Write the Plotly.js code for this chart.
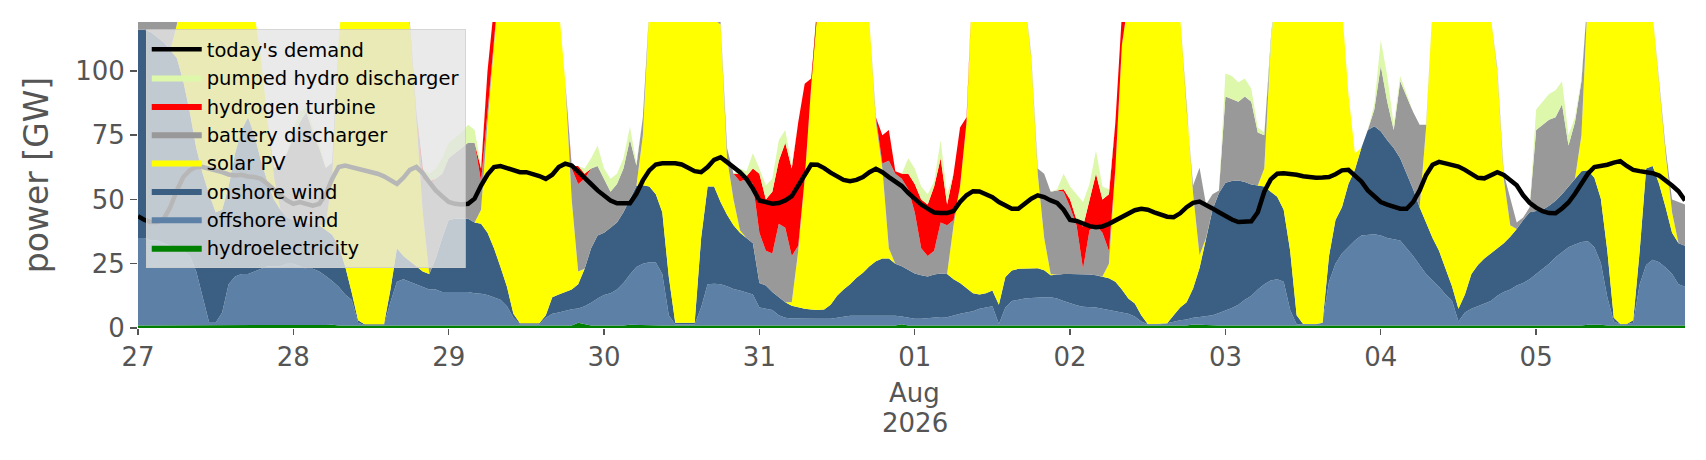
<!DOCTYPE html>
<html><head><meta charset="utf-8">
<script src="https://cdn.plot.ly/plotly-3.0.1.min.js"></script>
<style>html,body{margin:0;padding:0;background:#fff}#chart{width:1706px;height:460px}</style>
</head><body><div id="chart"></div>
<script>
// hourly data from 2026-07-27 00:00, 240 hours (GW)
const startUTC = Date.UTC(2026, 6, 27, 0, 0);
const hoursCount = 240;

const hydro = [
1,1,1,1,1,1,1,1,1,1,1,1,1,1,1,1,1,1,1,1,1,1,1,1,
1,1,1,1,1,1.2,1.3,1,1,1,1,1,1,1,1,1,1,1,1,1,1,1,1,1,
1,1,1,1,1,1,1,1,1,1,1,1,1,1,1,1,1,1,1,1,2,1.5,1,1,
1,1,1,1,1.3,1.2,1,1,1,1,1,1,1,1,1,1,1,1,1,1,1,1,1,1,
1,1,1,1,1,1,1,1,1,1,1,1,1,1,1,1,1,1,1,1,1,1,1.5,1,
1,1,1,1,1,1,1,1,1,1,1,1,1,1,1,1,1,1,1,1,1,1,1,1,
1,1,1,1,1,1,1,1,1,1,1,1,1,1,1,1,1,1,1,1.4,1.3,1,1,1,
1,1,1,1,1,1,1,1,1,1,1,1,1,1,1,1,1,1,1,1,1,1,1,1,
1,1,1,1,1,1,1,1,1,1,1,1.2,1,1,1,1,1,1,1,1,1,1,1,1,
1,1,1,1,1,1,1,1,1.3,1.4,1.3,1,1,1,1,1,1,1,1,1,1,1,1,1];

const offshore = [
34,34,33,33,32,31,30,29,27,21,11,1,1,5,16,19,20,20,21,22,23,23,23,24,
24,23,22,22,21,19,17,15,12,10,1,0.2,0.2,0.2,0.2,9,17,18,17,16,15,14,14,13,
13,13,13,13,12.5,12.3,11.8,11,10,7.5,3,0.5,0.5,0.5,0.5,3,4.5,5,5.8,6.3,5.6,7,8.8,10.5,
11.8,12.5,14,16.5,19.5,22.5,24,24.6,24.5,20,4,0.5,0.5,0.5,0.5,7,16,16.2,16,15.2,14.2,13.6,12.8,12,
7,6.5,6,4,3,2.7,2.6,2.6,2.6,2.6,2.6,2.6,3,3.3,3.8,3.8,3.8,3.8,3.8,3.8,3.8,3.8,3,3,
2.6,2.6,2.8,3,3.3,3.2,4,4.5,5,5.5,6.5,7,7.5,0.6,7,9.5,10,10.5,10.7,10.9,11,11,10.5,9.5,
8.5,7.8,7.3,7.2,7,6.5,6,5.5,5,4.5,3.5,1.5,0.5,0.5,0.5,0.8,1.5,2,2.3,2.6,3,3.6,4,4.8,
5.7,6.8,8,10,11.5,14,16,17.5,18,17,6,0.5,0.5,0.5,0.5,1,17,24,28,30.5,33,35,35.3,35.5,
35,34,33.5,33,30,27,23.5,20,17.5,15,12,9.5,1.5,5,6.5,7.5,8.5,9.5,11.5,13,14,15.5,16.5,18,
20,22,24,26.5,28.5,30.4,31.5,32.4,32.4,30,24,11,1.5,0.5,0.5,1,16,23.5,25.5,24.6,22.5,20,16,15];

const onshore = [
81,81,81,79,78,76,74,66,56,48,48,50,43,40,38,48,56,61,53,42,33,26,22,18,
17,17,18,17,18,18,18,16,11,3,1,0.3,0.3,0.3,0.3,5,13,9,8,7,6,6,12,21,
28,28.5,28.5,28.5,27.5,27.2,24.2,19,12.7,7.5,1.5,0.3,0.3,0.3,0.3,1,6.5,7,7.2,7.7,9.4,14.5,21.2,24.5,
24.2,25.5,26,27.5,29.5,31.5,30.5,29.4,26.5,24,15,0.5,0.5,0.5,0.5,27,38,37.8,32,27.8,24.8,22.4,21.2,20,
9.5,9,7,7,6,5,4.4,3.9,3.6,3.4,3.6,5.4,8.5,10.7,12.2,14.7,16.7,19.2,21.2,22.2,22.2,20.2,19.5,18.5,
17.6,16.9,16.2,16.8,16.9,16.8,14,12,9.5,7,5.5,5.5,6.1,7.4,11.8,11.9,12,11.5,11.5,11.3,10.5,8.5,9.2,10.5,
11.5,12.2,12.7,12.6,12.5,12.5,12.3,11.5,9,6,5,2.5,0.1,0.1,0.1,0,2.5,5,6.7,11.4,19,30.4,41,46.7,
49.8,49.4,48.4,45.8,43.3,40.4,38,34.5,32,28,23,3.5,0.1,0.1,0.1,0,10,17,18,24.5,27.5,34,40.7,42,
40.5,38,35.5,32,29,26,22.5,20,16.5,14,10,5.5,5,7,13.5,16,17.5,18.5,18.5,19,20.5,22,24.5,26,
24.5,23,22.5,22,22.5,23.6,25.5,27.6,27.6,27,25,18,1.5,0.1,0.1,1,13,37.5,36.5,30.4,23.5,16,16,16];

const solar = [
0,0,0,0,0,0,13,44,66,90,105,118,125,119,105,82,63,48,47,40,24,9,0,0,
0,0,0,0,0,2,22,80,116,141,157,163,163,160,148,125,94,107,92,56,23,0,0,0,
0,0,0,0,0,5.5,43,81,116,139,159.5,168,168,163,158,145,128,112,82,35,5,0,0,0,
0,0,0,0,0,0,19.5,70,98,115,145,163,163,158,148,105,75,65,69,22,10,1,0,0,
0,0,0,0,0,1.3,22,50.5,86.8,123,147.8,156,157.5,155,148,140.5,128.5,95,54,35,4,0,0,0,
0,0,0,0,0,0,21,37.5,64.5,126.5,142,151.5,153.4,156,140.2,127.6,117,105,81.8,36.8,12.5,0.5,0,0,
0,0,0,0,0,0,5.7,44,95,118.5,135.5,150,158.4,158.4,153.4,143.2,125,113,75,37,5,0,0,0,
0,0,0,0,0,0,7,57,89,104,128,157,160.4,158.4,153.4,143,110,88,78,35,6.5,0,0,0,
0,0,0,0,0,0,0,37,90,110,127,139,147.5,137,124,113.5,101,92,69,25,4.5,0,0,0,
0,0,0,0,0,0,0,14,69,87,105,130,156,153.4,148.4,142,105,63,59,39,21,8,0,0];

const battery = [
8,8,8,9,10,13,3,0,0,0,0,0,0,0,0,0,0,0,0,0,0,3,18,25,
32,39,43,36,30,22,6,0,0,0,0,0,0,0,0,0,0,0,1,4,13,35,31,25,
24,25.5,27.5,29.5,31,11,4,1,0,0,0,0,0,0,0,0,0,0,0,12,34,35,31,27,
21,14,15,17,23,8,7,0,0,0,0,0,0,0,0,0,0,0,1,4,10,19,23,23,
19.5,13.5,15,28.5,29,18,2,0,0,0,0,0,0,0,0,0,0,0,2,2,34,35,34,31.5,
23.8,10.5,8,9.2,19.8,19,2,0,0,0,0,0,0,0,0,0,0,0,1,2,25,32,32.8,32,
26,19,2,17.2,19.5,17,5,0,0,0,0,0,0,0,0,0,0,0,0,3,34,13,6,1,
33.5,31.8,30.6,33.2,32.2,20.6,13,2,0,0,0,0,0,0,0,0,0,0,0,0,0,0,0,6.5,
25.5,15,7,30,30,30,32,1,0,0,0,0,0,0,0,0,0,0,1,2,10,2.5,1,2,
31.5,33,33.5,32.5,35,16,22,21,0,0,0,0,0,0,0,0,0,0,0,0,2,5,16,16];

const hydrogen = [
0,0,0,0,0,0,0,0,0,0,0,0,0,0,0,0,0,0,0,0,0,0,0,0,
0,0,0,0,0,0,0,0,0,0,0,0,0,0,0,0,0,0,0,0,4,1,0,0,
0,0,0,0,0,5,16,12,0,0,0,0,0,0,0,0,0,0,0,1,7,2,0,0,
0,0,0,0,0,0,0,0,0,0,0,0,0,0,0,0,0,0,0,0,0,3,1,6,
23,20,24,24.5,33,34,48,37,3,0,0,0,0,0,0,0,0,0,0,11,12,1,2,6,
11,19,20,25,25,8,18,23,2,0,0,0,0,0,0,0,0,0,0,0,0,0,0,1,
3,2,16.5,12,20,13,22,18,12,0,0,0,0,0,0,0,0,0,0,0,0,0,0,0,
0,0,0,0,0,0,0,0,0,0,0,0,0,0,0,0,0,0,0,0,0,0,0,0,
0,0,0,0,0,0,0,0,0,0,0,0,0,0,0,0,0,0,0,0,0,0,0,0,
0,0,0,0,0,0,0,0,0,0,0,0,0,0,0,0,0,0,0,0,0,0,0,0];

const pumpedHydro = [
0,0,0,0,0,0,0,0,0,0,0,0,0,0,0,0,0,0,0,0,0,0,0,0,
4,4,2,2,2,0,0,0,0,0,0,0,0,0,0,0,0,0,0,0,0,3,4,6,
6,6,6,7,5,1,0,0,0,0,0,0,0,0,0,0,0,0,0,0,0,2,4,8,
4,5,4,4,5,1,0,0,0,0,0,0,0,0,0,0,0,0,0,0,0,2,2,6,
2,5.5,5,8,5,1,0,0,0,0,0,0,0,0,0,0,0,0,0,0,0,0,0,6,
6,5,4,2,7,4,0,0,0,0,0,0,0,0,0,0,0,0,0,0,0,0,0.5,6,
5,10,9.5,6,9,5,2,0,0,0,0,0,0,0,0,0,0,0,0,0,0,0,0,0,
9,9,7.6,7,5,2,1,0,0,0,0,0,0,0,0,0,0,0,0,0,0,0,0,2,
10,10,2,2,1,0,0,0,0,0,0,0,0,0,0,0,0,0,0,0,0,0,0,0,
8,9,10,10.5,9,4,2,1,0,0,0,0,0,0,0,0,0,0,0,0,0,0,0,0];

const demand = [
43.5,42,41.2,41.2,42.5,47,53.5,58.7,61.3,62.6,62.6,62,61.3,60.6,59.7,59.3,59.6,58.9,58.7,58,56,53.5,51.6,49.6,
48.3,49,48.3,47.6,48.3,52,58,62.6,63.2,62.6,62,61,60.6,60,59,57.4,56,58.4,61.5,62.6,60.2,56.7,53.5,51.2,
49,48.3,48,48.3,50.3,55.4,59.7,62.6,63,62.2,61.3,60.6,60.6,60,59.1,58,59.6,62.6,63.9,63.2,60.6,58,56,53.5,
51.3,49.6,48.5,48.3,48.5,52.2,57.4,61.3,63.6,64.1,64.1,64.1,63.6,62.3,61,60.6,62.6,65.4,66.4,64.5,62.6,60.6,58,54.2,
49.6,49,48.3,48.6,49.6,51.3,55.4,60,63.6,63.5,62.2,60.4,59.1,57.6,57.1,57.6,58.7,60.6,61.9,60.6,58.7,57.1,55.2,52.5,
50,48,46.4,44.9,44.7,44.7,45.5,49,51.6,53.2,53.1,52.2,50.9,49,47.7,46.4,46.4,48.3,50.3,51.6,50.9,49.6,48.6,46,
42,41.6,40.5,39.6,39.2,39.5,40.5,41.8,43.5,44.7,45.8,46.4,46,45,44,43.3,43.1,44.6,47,48.7,49.2,48,46.5,45,
43.5,42.2,41.2,41.2,41.5,45,53,57.8,60,60.2,60,59.6,59,58.6,58.4,58.5,58.7,59.8,61.3,61.5,59.5,57,53.5,51,
49,48,47,46.4,46.4,49,53.5,59.5,63.5,64.6,64,63.4,62.8,61.5,60,58.4,58.2,59.2,60.6,59.5,57.5,55.5,51.6,48.7,
46.8,45.4,44.7,44.6,46.5,48.8,52.2,56.5,60,62.6,63,63.5,64.3,64.9,63,61.5,61,60.8,60.2,59.3,57.6,55.4,53.2,49.6];

const dayTicks = ['2026-07-27','2026-07-28','2026-07-29','2026-07-30','2026-07-31',
                  '2026-08-01','2026-08-02','2026-08-03','2026-08-04','2026-08-05'];
const dayLabels = ['27','28','29','30','31','01','02','03','04','05'];
const yTicks = [0, 25, 50, 75, 100];

// build hourly timestamps (the index of the series)
const times = [];
for (let i = 0; i < hoursCount; i++) {
  times.push(new Date(startUTC + i * 3600000).toISOString().slice(0, 16).replace('T', ' '));
}

const stackSeries = [
  {name: 'hydroelectricity', y: hydro, color: '#008000'},
  {name: 'offshore wind', y: offshore, color: '#5d81a6'},
  {name: 'onshore wind', y: onshore, color: '#3b5f82'},
  {name: 'solar PV', y: solar, color: '#ffff00'},
  {name: 'battery discharger', y: battery, color: '#999999'},
  {name: 'hydrogen turbine', y: hydrogen, color: '#ff0000'},
  {name: 'pumped hydro discharger', y: pumpedHydro, color: '#ddf7ab'}
];

const traces = stackSeries.map(s => ({
  type: 'scatter', x: times, y: s.y, name: s.name,
  stackgroup: 'gen', mode: 'lines', line: {width: 0, color: s.color},
  fillcolor: s.color, hoverinfo: 'skip'
}));
traces.push({
  type: 'scatter', x: times, y: demand, name: "today's demand",
  mode: 'lines', line: {color: '#000000', width: 4.5}, hoverinfo: 'skip'
});

const grey = '#555555';
const layout = {
  width: 1706, height: 460,
  margin: {l: 138, r: 21, t: 22, b: 132, pad: 0},
  paper_bgcolor: '#ffffff', plot_bgcolor: '#ffffff',
  font: {family: 'DejaVu Sans', color: grey},
  showlegend: true,
  xaxis: {
    type: 'date', range: [times[0], times[hoursCount - 1]],
    tickmode: 'array', tickvals: dayTicks, ticktext: dayLabels,
    ticks: 'outside', ticklen: 6, tickwidth: 1.3, tickcolor: grey,
    tickfont: {size: 26, color: grey},
    showgrid: false, zeroline: false, showline: false
  },
  yaxis: {
    range: [0, 119], tickmode: 'array', tickvals: yTicks,
    ticks: 'outside', ticklen: 7, tickwidth: 1.3, tickcolor: grey,
    tickfont: {size: 26, color: grey},
    showgrid: false, zeroline: false, showline: false,
    title: {text: 'power [GW]', font: {size: 33, color: grey}, standoff: 16}
  },
  legend: {
    x: 0.005, y: 0.977, xanchor: 'left', yanchor: 'top',
    bgcolor: 'rgba(229,229,229,0.8)', bordercolor: 'rgba(204,204,204,0.8)', borderwidth: 1,
    font: {size: 19.5, color: '#000000', family: 'DejaVu Sans'},
    traceorder: 'reversed', itemwidth: 50, tracegroupgap: 0
  },
  annotations: [
    {x: '2026-08-01 00:00', y: -0.2124, xref: 'x', yref: 'paper', text: 'Aug',
     showarrow: false, yanchor: 'middle', xanchor: 'center', font: {size: 26, color: grey}},
    {x: '2026-08-01 00:00', y: -0.3105, xref: 'x', yref: 'paper', text: '2026',
     showarrow: false, yanchor: 'middle', xanchor: 'center', font: {size: 26, color: grey}}
  ]
};

Plotly.newPlot('chart', traces, layout, {staticPlot: true, displayModeBar: false});
</script>
</body></html>
